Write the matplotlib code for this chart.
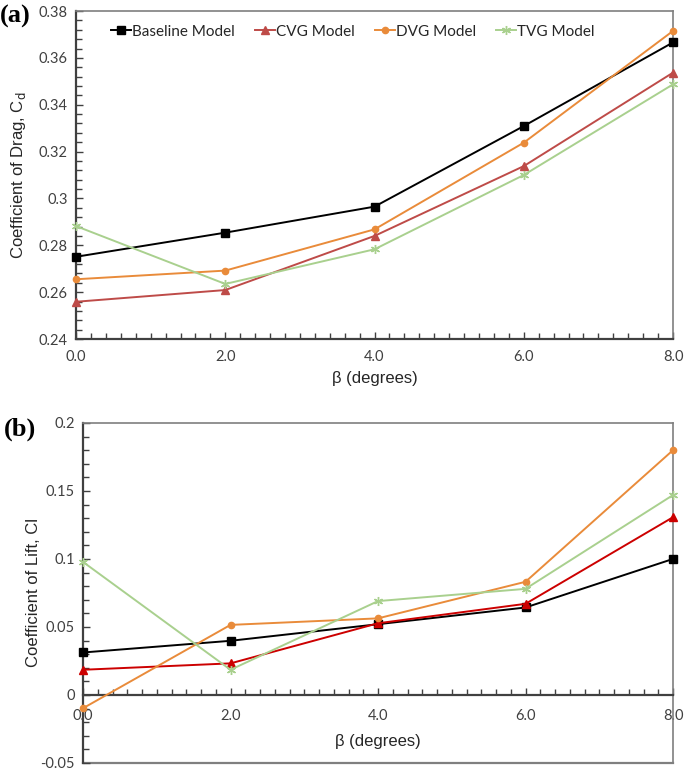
import matplotlib
matplotlib.use("Agg")
import matplotlib.pyplot as plt
from matplotlib.ticker import MultipleLocator, FixedLocator

beta = [0.0, 2.0, 4.0, 6.0, 8.0]
beta_labels = ["0.0", "2.0", "4.0", "6.0", "8.0"]
series_names = ["Baseline Model", "CVG Model", "DVG Model", "TVG Model"]

cd_baseline = [0.2751, 0.2854, 0.2965, 0.3309, 0.3666]
cd_cvg = [0.2559, 0.2609, 0.2840, 0.3138, 0.3537]
cd_dvg = [0.2655, 0.2692, 0.2868, 0.3238, 0.3715]
cd_tvg = [0.2882, 0.2635, 0.2783, 0.3100, 0.3487]

cl_baseline = [0.0312, 0.0398, 0.0520, 0.0643, 0.1000]
cl_cvg = [0.0185, 0.0232, 0.0527, 0.0670, 0.1307]
cl_dvg = [-0.0098, 0.0515, 0.0563, 0.0832, 0.1800]
cl_tvg = [0.0978, 0.0185, 0.0690, 0.0780, 0.1470]

cd_yticks = [0.24, 0.26, 0.28, 0.30, 0.32, 0.34, 0.36, 0.38]
cd_ylabels = ["0.24", "0.26", "0.28", "0.3", "0.32", "0.34", "0.36", "0.38"]
cl_yticks = [-0.05, 0.0, 0.05, 0.1, 0.15, 0.2]
cl_ylabels = ["-0.05", "0", "0.05", "0.1", "0.15", "0.2"]

TICKFONT = ["Lato", "DejaVu Sans"]
LABFONT = ["Liberation Sans", "DejaVu Sans"]
tick_color = "#404040"
spine_color = "#7f7f7f"

fig = plt.figure(figsize=(6.85, 7.71), dpi=100)
ax1 = fig.add_axes([0.111, 0.5603, 0.8715, 0.4254])
ax2 = fig.add_axes([0.1212, 0.0105, 0.8613, 0.4409])

top_styles = [
    dict(color="#000000", marker="s", ms=5.5),
    dict(color="#BE4B48", marker="^", ms=6),
    dict(color="#E98B3A", marker="o", ms=4.5),
    dict(color="#A9D08E", marker=(6, 2, 0), ms=6.5, mew=1.0),
]
bot_styles = [
    dict(color="#000000", marker="s", ms=5.5),
    dict(color="#CC0000", marker="^", ms=6),
    dict(color="#E98B3A", marker="o", ms=4.5),
    dict(color="#A9D08E", marker=(6, 2, 0), ms=6.5, mew=1.0),
]

cd_all = [cd_baseline, cd_cvg, cd_dvg, cd_tvg]
cl_all = [cl_baseline, cl_cvg, cl_dvg, cl_tvg]

for name, vals, st in zip(series_names, cd_all, top_styles):
    ax1.plot(beta, vals, lw=1.4, label=name, clip_on=False, zorder=3, **st)
for name, vals, st in zip(series_names, cl_all, bot_styles):
    ax2.plot(beta, vals, lw=1.4, label=name, clip_on=False, zorder=3, **st)

# ---- top axes
ax1.set_xlim(0, 8)
ax1.set_ylim(0.24, 0.38)
ax1.xaxis.set_major_locator(FixedLocator(beta))
ax1.set_xticklabels(beta_labels)
ax1.xaxis.set_minor_locator(MultipleLocator(0.2))
ax1.yaxis.set_major_locator(FixedLocator(cd_yticks))
ax1.set_yticklabels(cd_ylabels)
ax1.yaxis.set_minor_locator(MultipleLocator(0.004))

# ---- bottom axes
ax2.set_xlim(0, 8)
ax2.set_ylim(-0.05, 0.2)
ax2.xaxis.set_major_locator(FixedLocator(beta))
ax2.set_xticklabels(beta_labels)
ax2.xaxis.set_minor_locator(MultipleLocator(0.2))
ax2.yaxis.set_major_locator(FixedLocator(cl_yticks))
ax2.set_yticklabels(cl_ylabels)
ax2.yaxis.set_minor_locator(MultipleLocator(0.01))
ax2.spines["bottom"].set_position(("data", 0))
ax2.axhline(-0.05, color=spine_color, lw=1.6, clip_on=False, zorder=1)

for ax in (ax1, ax2):
    for s in ax.spines.values():
        s.set_color(spine_color)
        s.set_linewidth(1.2)
    ax.spines["left"].set_color("#404040")
    ax.spines["bottom"].set_color("#404040")
    ax.spines["left"].set_linewidth(1.6)
    ax.spines["bottom"].set_linewidth(1.6)
    ax.tick_params(axis="both", which="both", direction="in", color="#404040",
                   top=False, right=False)
    ax.tick_params(axis="both", which="major", length=5, width=1.0)
    ax.tick_params(axis="both", which="minor", length=4, width=1.0)
    ax.tick_params(axis="x", which="major", pad=8)
    ax.tick_params(axis="y", which="major", pad=6)
    for lab in ax.get_xticklabels() + ax.get_yticklabels():
        lab.set_fontfamily(TICKFONT)
        lab.set_fontsize(10.5)
        lab.set_color(tick_color)

ax2.tick_params(axis="x", which="major", pad=10)

ax1.set_xlabel("β (degrees)", fontsize=12, family=LABFONT, color="#262626", labelpad=5)
ax1.set_ylabel("Coefficient of Drag, C$_\\mathrm{d}$", fontsize=12, family=LABFONT,
               color="#262626")
ax1.yaxis.set_label_coords(-0.08, 0.5)
ax2.set_xlabel("β (degrees)", fontsize=12, family=LABFONT, color="#262626")
ax2.xaxis.set_label_coords(0.5, 0.085)
ax2.set_ylabel("Coefficient of Lift, Cl", fontsize=12, family=LABFONT,
               color="#262626")
ax2.yaxis.set_label_coords(-0.072, 0.5)

leg = ax1.legend(loc="upper left", bbox_to_anchor=(0.035, 1.0), ncol=4, frameon=False,
                 handlelength=1.3, handletextpad=0.1, columnspacing=1.3,
                 prop={"family": TICKFONT, "size": 11})
for t in leg.get_texts():
    t.set_color("#262626")

fig.text(0.0, 0.993, "(a)", fontsize=19, fontweight="bold", family=["Liberation Serif", "DejaVu Serif"],
         va="top", ha="left")
fig.text(0.006, 0.458, "(b)", fontsize=19, fontweight="bold", family=["Liberation Serif", "DejaVu Serif"],
         va="top", ha="left")

fig.savefig("out.png", dpi=100)
